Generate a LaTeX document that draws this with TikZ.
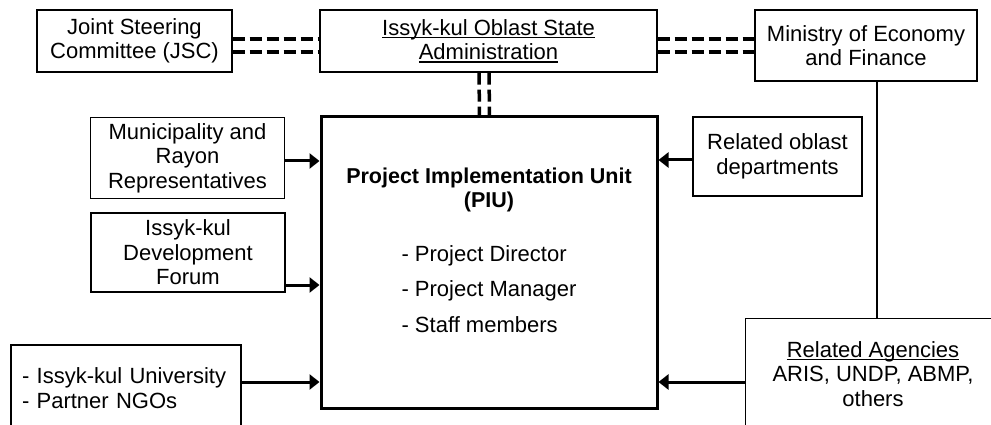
\documentclass[tikz,border=0pt]{standalone}
\usepackage{fontspec}
\setmainfont{Liberation Sans}
\usetikzlibrary{arrows.meta}
\newcommand\diagfont{\fontsize{22}{24.5}\selectfont}
% underline at a fixed depth below the baseline
\newcommand\uword[1]{\setbox0=\hbox{#1}\rlap{\rule[-3pt]{\wd0}{1.3pt}}\box0}

\begin{document}
\begin{tikzpicture}[x=1pt,y=-1pt,
  boxline/.style={line width=1.2pt},
  box/.style={draw, boxline, inner sep=0pt, align=center, font=\diagfont},
  mainbox/.style={draw, line width=3pt, inner sep=0pt},
  label/.style={inner sep=0pt, font=\diagfont},
  dbl/.style={line width=3.5pt, dash pattern=on 12pt off 5pt},
  arr/.style={line width=3pt, -{Triangle[length=10pt,width=15pt]}},
  link/.style={line width=1.5pt}]
\clip (0,0) rectangle (991,425);
\fill[white] (0,0) rectangle (991,425);

% top row
\node[box, minimum width=195pt, minimum height=62pt] (jsc) at (134.5,41)
  {Joint Steering\\Committee (JSC)};
\node[box, minimum width=337pt, minimum height=62pt] (osa) at (488.5,41)
  {\uword{Issyk-kul Oblast State}\\\uword{Administration}};
\node[box, minimum width=222pt, minimum height=71pt] (mef) at (866,45.5)
  {Ministry of Economy\\and Finance};

% central unit
\node[mainbox, minimum width=336pt, minimum height=291pt] (piu) at (489,262.5) {};
\node[label, align=center, font=\fontsize{21.5}{24}\selectfont\bfseries, text depth=0pt] (piutitle) at (489,188)
  {Project Implementation Unit\\(PIU)};
\node[label, align=left, font=\fontsize{22}{35.5}\selectfont] (piustaff) at (489,289)
  {- Project Director\\- Project Manager\\- Staff members};

% left column
\node[box, minimum width=194pt, minimum height=81pt] (mun) at (187.5,158)
  {Municipality and\\Rayon\\Representatives};
\node[box, minimum width=194pt, minimum height=79pt] (idf) at (188,252.5)
  {Issyk-kul\\Development\\Forum};
\node[box, align=left, text width=208pt, minimum width=230pt, minimum height=86pt] (uni) at (126,388)
  {- Issyk-kul University\\- Partner NGOs};

% right column
\node[box, minimum width=169pt, minimum height=79pt] (rod) at (777.5,156.5)
  {Related oblast\\departments};
\node[box, draw=none, minimum width=254pt, minimum height=110pt] (rag) at (873,374)
  {\uword{Related Agencies}\\ARIS, UNDP, ABMP,\\others};
% the agencies box runs on past the right and bottom edges
\draw[boxline] (rag.south west) -- (rag.north west) -- ([xshift=60pt]rag.north east);

% double dashed links
\draw[dbl] ([yshift=2pt]jsc.east) -- ([yshift=2pt]osa.west);
\draw[dbl] ([yshift=-11pt]jsc.east) -- ([yshift=-11pt]osa.west);
\draw[dbl] ([yshift=6.5pt]osa.east |- mef.east) -- ([yshift=6.5pt]mef.west);
\draw[dbl] ([yshift=-6.5pt]osa.east |- mef.east) -- ([yshift=-6.5pt]mef.west);
\draw[dbl] ([xshift=-9.5pt]osa.south) -- ([xshift=-9.5pt]piu.north);
\draw[dbl] ([xshift=0.5pt]osa.south) -- ([xshift=0.5pt]piu.north);

% arrows into the unit
\coordinate (a1) at ([yshift=-3pt]mun.east);
\draw[arr] (a1) -- (a1 -| piu.west);
\coordinate (a2) at ([yshift=-32.5pt]idf.east);
\draw[arr] (a2) -- (a2 -| piu.west);
\coordinate (a3) at ([yshift=6pt]uni.east);
\draw[arr] (a3) -- (a3 -| piu.west);
\coordinate (a4) at ([yshift=-3.5pt]rod.west);
\draw[arr] (a4) -- (a4 -| piu.east);
\coordinate (a5) at ([yshift=-8pt]rag.west);
\draw[arr] (a5) -- (a5 -| piu.east);

% ministry to agencies
\coordinate (m1) at ([xshift=11pt]mef.south);
\draw[link] (m1) -- (m1 |- rag.north);
\end{tikzpicture}
\end{document}
